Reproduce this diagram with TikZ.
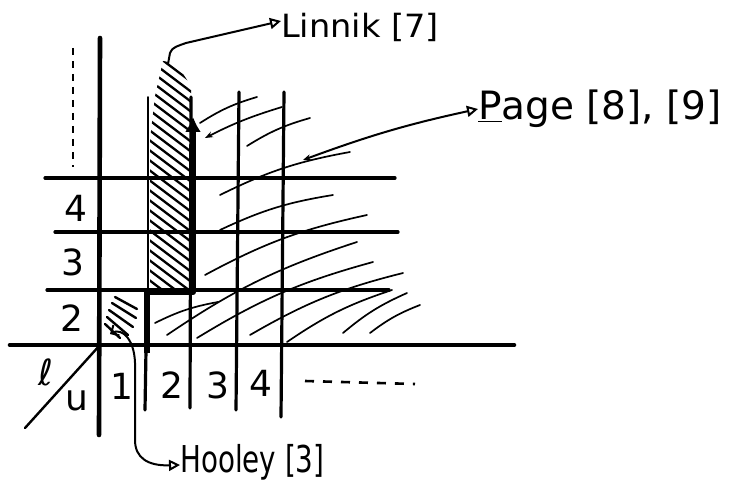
\documentclass[tikz,border=0pt]{standalone}
\usepackage{fontspec}
\setmainfont{DejaVu Sans}
\usepackage{graphicx}
\usetikzlibrary{arrows.meta}
\tikzset{
  gridline/.style={line width=3.2pt, line cap=round},
  axisline/.style={line width=4.6pt, line cap=round},
  dotline/.style={line width=2.6pt, dash pattern=on 7pt off 6pt},
  hatchline/.style={line width=2.3pt, line cap=round},
  pagehatch/.style={line width=1.7pt, line cap=round},
  pointer/.style={line width=2pt, -{Triangle[open, length=11pt, width=11pt]}},
  cellnum/.style={font=\fontsize{36}{40}\selectfont, inner sep=0pt},
  refnode/.style={anchor=west, inner sep=0pt}
}

\begin{document}
\begin{tikzpicture}[x=1pt, y=-1pt]
  \useasboundingbox (0,0) rectangle (744,492);

  % Linnik column hatching
  \begin{scope}
    \clip (150,294) -- (150,140) -- (155,96) -- (163,61) -- (176,63) -- (191,86) -- (191,294) -- cycle;
    \foreach \k in {0,...,25}
      \draw[hatchline] (120,28+10*\k) -- ++(90,68);
  \end{scope}

  % Hooley cell hatching
  \foreach \xa/\ya/\xb/\yb in {115/297/137/309, 112/303/136/318, 109/310/133/327, 107/317/128/335, 105/324/120/338}
    \draw[hatchline, line width=2.4pt] (\xa,\ya) -- (\xb,\yb);

  % Page region hatching
  \foreach \xa/\ya/\xb/\yb in {200/123/257/97, 247/146/310/118, 220/195/350/152, 220/230/333/195,
      205/275/367/215, 155/323/218/302, 167/335/357/242, 197/338/373/262, 250/335/403/273,
      287/342/392/290, 343/333/407/293, 370/333/420/305}
    \draw[pagehatch] (\xa,\ya) to[bend left=8] (\xb,\yb);
  \draw[pagehatch, {Stealth[length=8pt, width=6pt]}-] (205,138) to[bend left=5] (282,107);

  % grid
  \draw[gridline] (45,178) -- (395,178);
  \draw[gridline] (55,232) -- (398,232);
  \draw[gridline] (47,290) -- (389,290);
  \draw[gridline, line width=1.6pt] (148,97) -- (148,290);
  \draw[gridline] (147,290) -- (145,410);
  \draw[gridline] (191,97) -- (190,408);
  \draw[gridline] (239,92) -- (236,410);
  \draw[gridline] (284,92) -- (281,417);
  \draw[axisline] (10,345) -- (514,345);
  \draw[axisline] (100,38) -- (99,435);
  \draw[gridline, line width=2.4pt] (25,428) -- (100,345);
  \draw[dotline] (73,48) -- (73,167);
  \draw[dotline, dash pattern=on 9pt off 9pt] (305,381) -- (415,384);

  % thick path
  \draw[line width=6.5pt, line join=round, -{Latex[length=36pt, width=12pt]}]
    (147,353) -- (147,292) -- (193,292) -- (193,96);

  % numbers
  \node[cellnum] (r4) at (76,208) {4};
  \node[cellnum] (r3) at (73,262) {3};
  \node[cellnum] (r2) at (72,318) {2};
  \node[cellnum] (c1) at (122,386) {1};
  \node[cellnum] (c2) at (172,385) {2};
  \node[cellnum] (c3) at (218,385) {3};
  \node[cellnum] (c4) at (261,383) {4};
  \node[cellnum] (ell) at (46,372) {ℓ};
  \node[cellnum] (uu) at (77,401) {u};

  % references
  \node[refnode] (linnik) at (281,27) {\scalebox{1.05}[1]{\fontsize{32}{36}\selectfont Linnik [7]}};
  \node[refnode] (page) at (478,109) {\fontsize{39}{44}\selectfont \underline{P}age [8], [9]};
  \node[refnode] (hooley) at (180,462) {\scalebox{0.75}[1]{\fontsize{37}{40}\selectfont Hooley [3]}};

  \coordinate (lst) at (168,64);
  \coordinate (pst) at (303,160);
  \coordinate (hst) at (110,334);
  \draw[pointer] (lst) -- (170,53) .. controls (172,47) and (178,46) .. (186,43) -- ([yshift=6pt]linnik.west);
  \draw[pointer, {Stealth[length=8pt, width=6pt]}-{Triangle[open, length=11pt, width=11pt]}] (pst) to[bend left=4] (page.west);
  \draw[pointer, {Straight Barb[length=6pt]}-{Triangle[open, length=11pt, width=11pt]}] (hst) .. controls (122,327) and (136,340) .. (135,368) -- (135,440) .. controls (135,458) and (148,466) .. ([yshift=-3pt]hooley.west);
\end{tikzpicture}
\end{document}
